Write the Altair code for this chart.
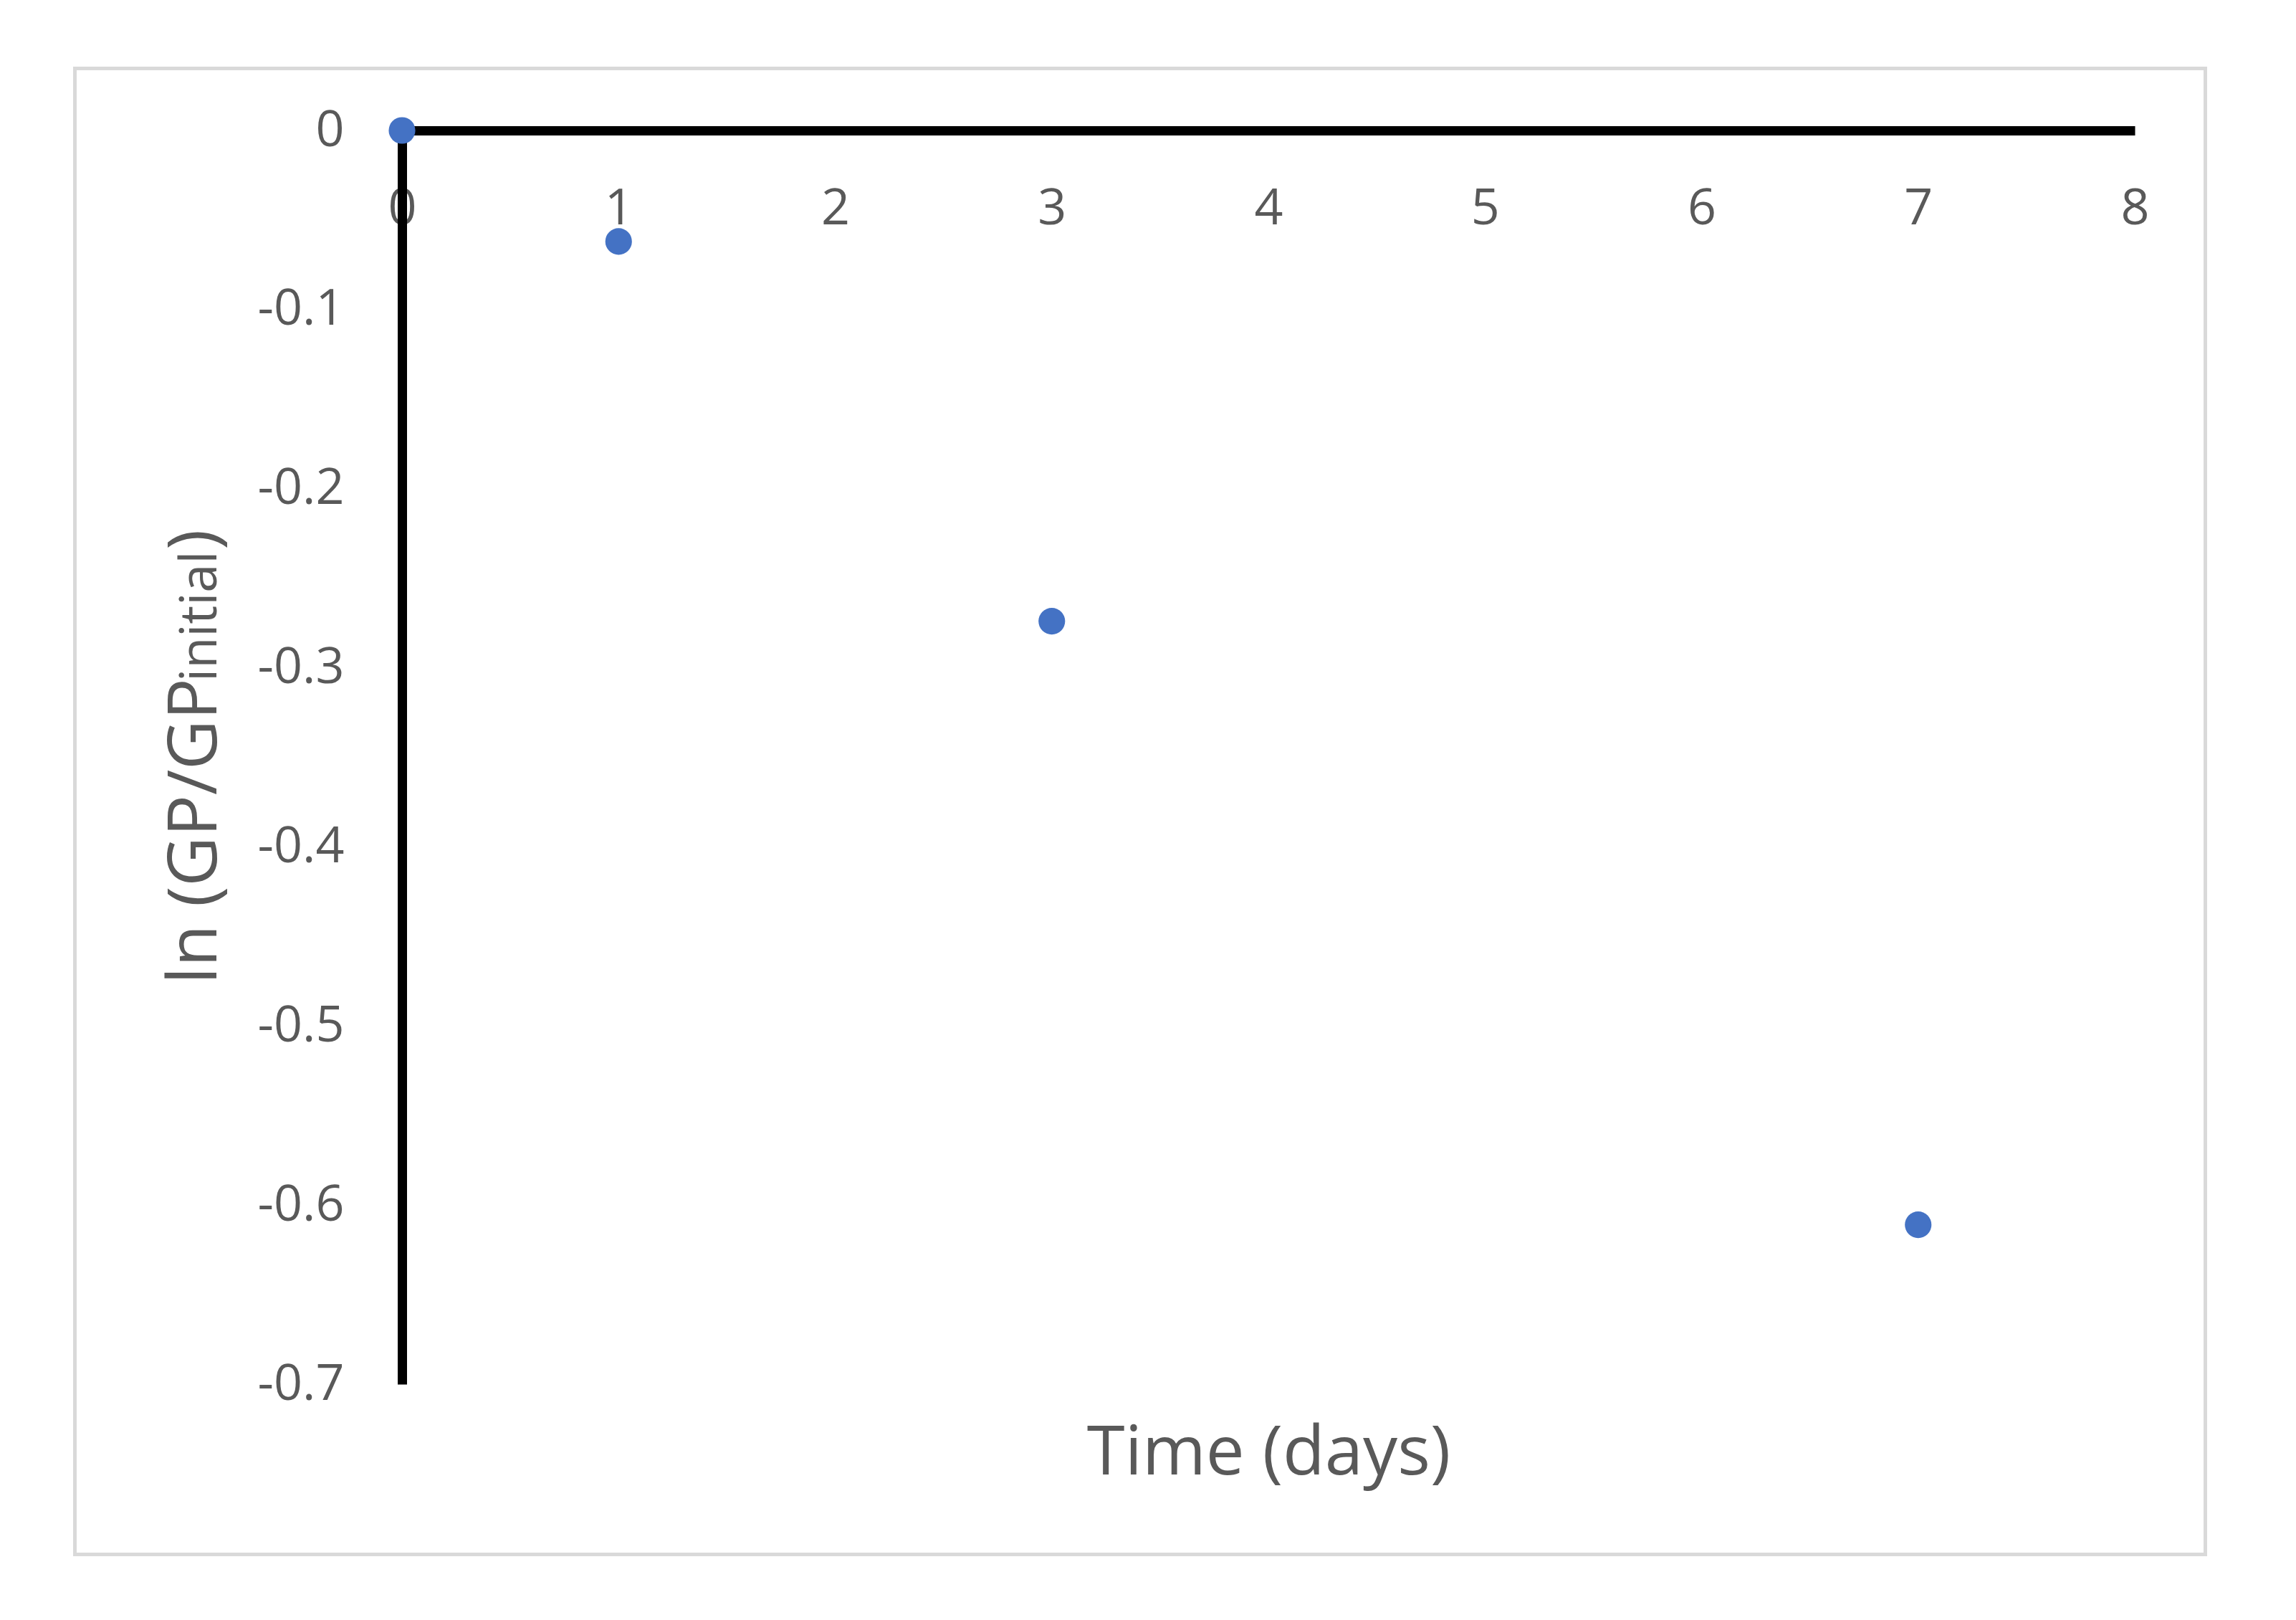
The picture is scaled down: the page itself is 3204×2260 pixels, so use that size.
import altair as alt
import pandas as pd

# Data
time_days = [0, 1, 3, 7]
ln_gp_ratio = [0.0, -0.062, -0.274, -0.611]
x_ticks = [0, 1, 2, 3, 4, 5, 6, 7, 8]
y_ticks = [0, -0.1, -0.2, -0.3, -0.4, -0.5, -0.6, -0.7]
x_title = "Time (days)"
y_title_main = "ln (GP/GP"
y_title_sub = "initial"
y_title_end = ")"

FONT = "Open Sans"
TEXT_COLOR = "#595959"
W, H = 2418, 1749

df = pd.DataFrame({"t": time_days, "v": ln_gp_ratio})
one = alt.Data(values=[{}])

border = alt.Chart(one).mark_rect(
    fillOpacity=0, stroke="#d9d9d9", strokeWidth=5
).encode(
    x=alt.value(-456.5), x2=alt.value(2516.5),
    y=alt.value(-86.5), y2=alt.value(1986.5),
)

points = alt.Chart(df).mark_circle(
    size=1380, color="#4472C4", opacity=1
).encode(
    x=alt.X("t:Q",
            scale=alt.Scale(domain=[0, 8], nice=False),
            axis=alt.Axis(
                orient="bottom", offset=-H, values=x_ticks, format="d",
                domainColor="black", domainWidth=13, ticks=False, tickSize=0,
                grid=False, labelPadding=109, labelBaseline="middle",
                labelFlush=False, labelOverlap=False,
                labelFont=FONT, labelFontSize=70, labelColor=TEXT_COLOR,
                title=x_title, titleFont=FONT, titleFontSize=96,
                titleFontWeight="normal", titleColor=TEXT_COLOR,
                titleY=1874, titleBaseline="alphabetic",
            )),
    y=alt.Y("v:Q",
            scale=alt.Scale(domain=[-0.7, 0], nice=False, zero=False),
            axis=alt.Axis(
                orient="left", values=y_ticks,
                labelExpr="datum.value == 0 ? '0' : '-' + format(-datum.value, '.1f')",
                domainColor="black", domainWidth=13, ticks=False, tickSize=0,
                grid=False, labelPadding=81, labelFlush=False, labelOverlap=False,
                labelFont=FONT, labelFontSize=70, labelColor=TEXT_COLOR,
                title=None,
            )),
)

def ytext(txt, size, ypos):
    return alt.Chart(one).mark_text(
        text=txt, angle=270, align="left", baseline="alphabetic",
        font=FONT, fontSize=size, color=TEXT_COLOR,
    ).encode(x=alt.value(-259), y=alt.value(ypos))

t1 = ytext(y_title_main, 96, 1191)
t2 = ytext(y_title_sub, 72, 769)
t3 = ytext(y_title_end, 96, 585)

chart = alt.layer(border, points, t1, t2, t3).properties(
    width=W, height=H,
    autosize=alt.AutoSizeParams(type="none"),
    padding={"left": 553, "top": 174, "right": 217, "bottom": 321},
    background="white",
).configure_view(stroke=None)

chart.save("out.html", embed_options={"renderer": "svg", "actions": False})
